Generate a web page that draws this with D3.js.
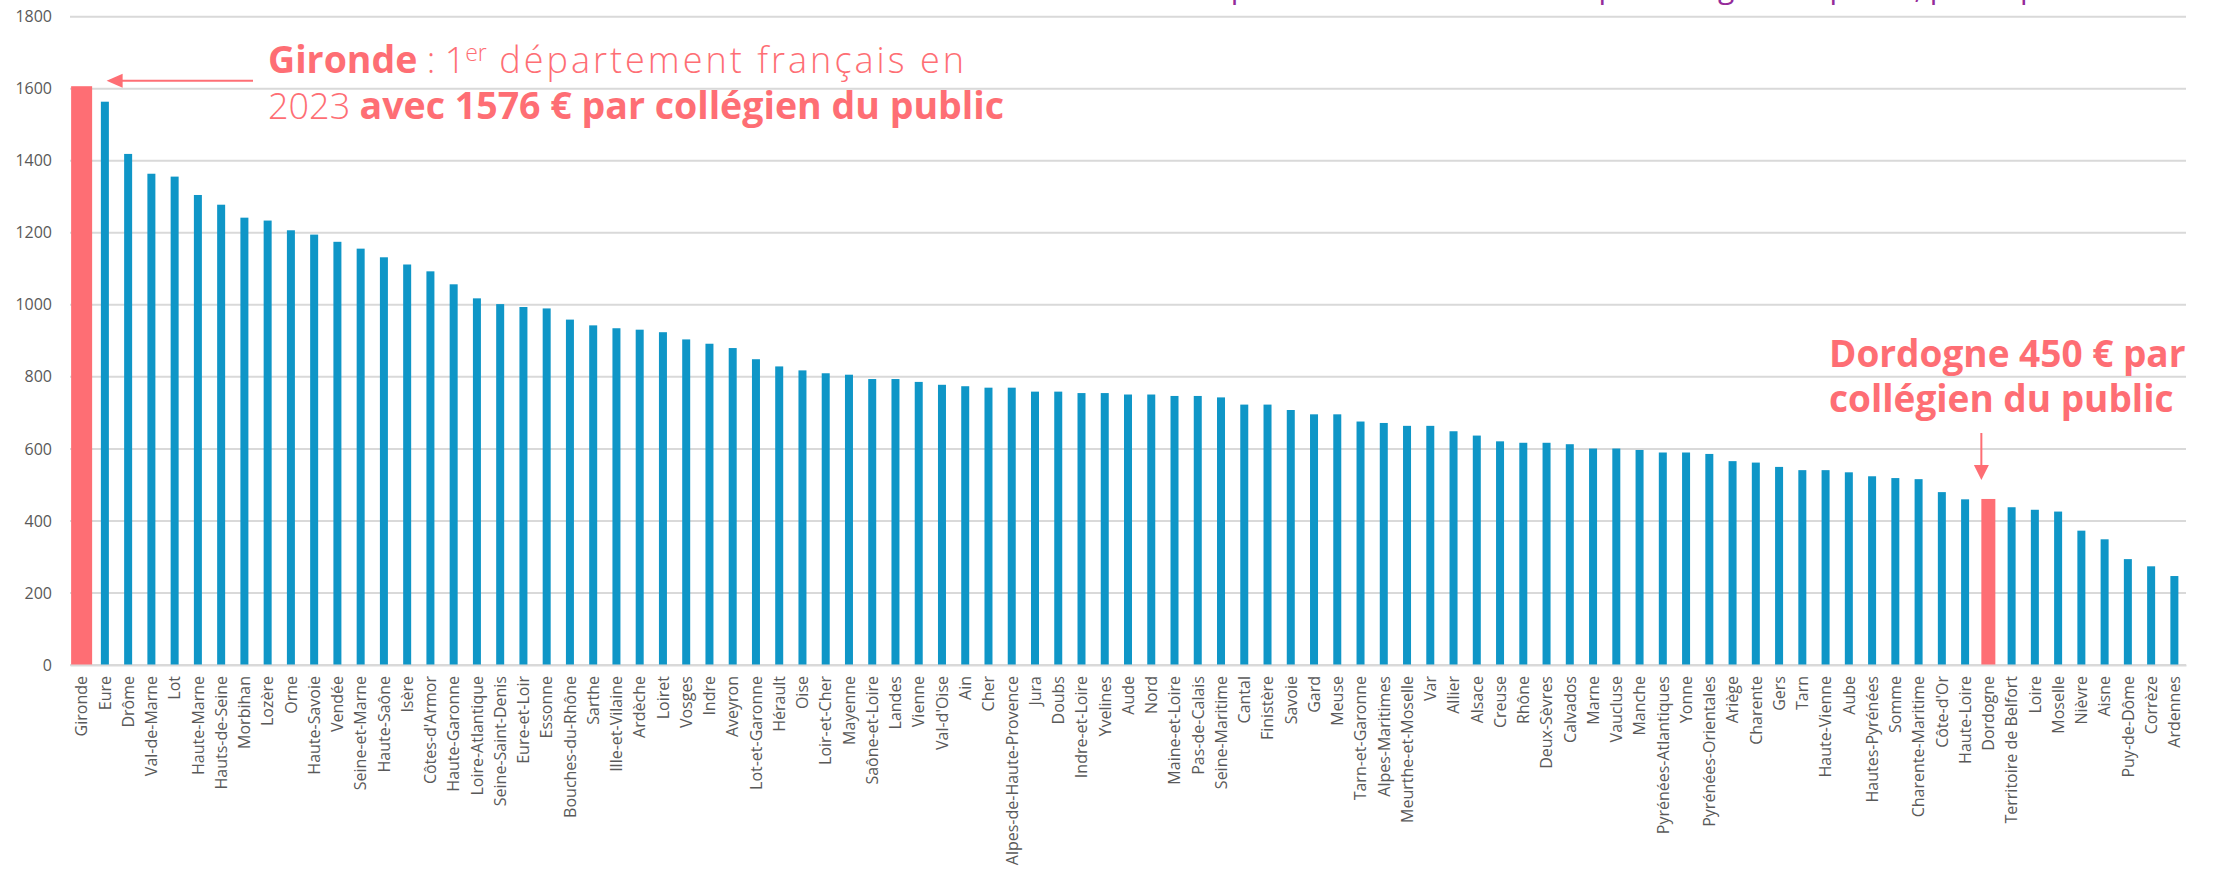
<!DOCTYPE html>
<html>
<head>
<meta charset="utf-8">
<script src="https://cdn.jsdelivr.net/npm/d3@7"></script>
<style>
  html, body { margin: 0; padding: 0; background: #fff; overflow: hidden; }
  svg { display: block; font-family: "Open Sans", "Noto Sans", sans-serif; }
</style>
</head>
<body>
<svg id="chart" width="2214" height="870"></svg>
<script>
const departements = ["Gironde","Eure","Drôme","Val-de-Marne","Lot","Haute-Marne","Hauts-de-Seine","Morbihan","Lozère","Orne","Haute-Savoie","Vendée","Seine-et-Marne","Haute-Saône","Isère","Côtes-d'Armor","Haute-Garonne","Loire-Atlantique","Seine-Saint-Denis","Eure-et-Loir","Essonne","Bouches-du-Rhône","Sarthe","Ille-et-Vilaine","Ardèche","Loiret","Vosges","Indre","Aveyron","Lot-et-Garonne","Hérault","Oise","Loir-et-Cher","Mayenne","Saône-et-Loire","Landes","Vienne","Val-d'Oise","Ain","Cher","Alpes-de-Haute-Provence","Jura","Doubs","Indre-et-Loire","Yvelines","Aude","Nord","Maine-et-Loire","Pas-de-Calais","Seine-Maritime","Cantal","Finistère","Savoie","Gard","Meuse","Tarn-et-Garonne","Alpes-Maritimes","Meurthe-et-Moselle","Var","Allier","Alsace","Creuse","Rhône","Deux-Sèvres","Calvados","Marne","Vaucluse","Manche","Pyrénées-Atlantiques","Yonne","Pyrénées-Orientales","Ariège","Charente","Gers","Tarn","Haute-Vienne","Aube","Hautes-Pyrénées","Somme","Charente-Maritime","Côte-d'Or","Haute-Loire","Dordogne","Territoire de Belfort","Loire","Moselle","Nièvre","Aisne","Puy-de-Dôme","Corrèze","Ardennes"];

const depenseParCollegien = [1607,1564,1419,1364,1356,1305,1278,1242,1234,1207,1195,1175,1156,1132,1112,1093,1057,1018,1002,994,990,959,943,935,931,924,904,892,880,849,829,818,810,806,794,794,786,778,774,770,770,759,759,755,755,751,751,747,747,743,723,723,708,696,696,676,672,664,664,649,637,621,617,617,613,601,601,597,590,590,586,566,562,550,541,541,535,524,519,516,480,460,461,438,431,426,373,349,294,274,247];

const highlighted = ["Gironde", "Dordogne"];
const yTicks = [0,200,400,600,800,1000,1200,1400,1600,1800];

const titleText = "Dépense de fonctionnement par collégien du public, par département";
const annotGironde = {bold1: "Gironde", light1: " : 1", sup: "er", light1b: " département français en", light2: "2023 ", bold2: "avec 1576 € par collégien du public"};
const annotDordogne = ["Dordogne 450 € par", "collégien du public"];

const data = departements.map((d, i) => ({name: d, value: depenseParCollegien[i]}));

const BLUE = "#0f96c7", CORAL = "#fe6e74", GRID = "#d9d9d9", TXT = "#595959";

const svg = d3.select("#chart");
const x = d3.scaleBand().domain(departements).range([70, 2186]).padding(0);
const y = d3.scaleLinear().domain([0, 1800]).range([665, 16.7]);

// Title, cut off at the very top of the picture (only descenders visible)
const title = svg.append("text")
  .attr("x", 0).attr("y", -2.5)
  .attr("font-size", 30)
  .attr("fill", "#952b9a")
  .text(titleText);
{
  const node = title.node();
  const pi = titleText.lastIndexOf("p");
  const px = node.getStartPositionOfChar(pi).x;
  title.attr("x", 2020 - px);
}

// Gridlines
svg.append("g").selectAll("line").data(yTicks).join("line")
  .attr("x1", 70).attr("x2", 2186)
  .attr("y1", d => y(d)).attr("y2", d => y(d))
  .attr("stroke", GRID).attr("stroke-width", 2);

// Y axis
const yAxis = d3.axisLeft(y).tickValues(yTicks).tickSize(0).tickPadding(18).tickFormat(d3.format("d"));
const gy = svg.append("g").attr("transform", "translate(70,0)").call(yAxis);
gy.select(".domain").remove();
gy.selectAll("text").attr("font-size", 16).attr("fill", TXT).attr("font-family", "'Open Sans', sans-serif");

// Bars
const barWidth = d => d.name === "Gironde" ? 21 : (d.name === "Dordogne" ? 14 : 8);
svg.append("g").selectAll("rect").data(data).join("rect")
  .attr("x", d => x(d.name) + x.bandwidth() / 2 - barWidth(d) / 2)
  .attr("width", barWidth)
  .attr("y", d => y(d.value))
  .attr("height", d => y(0) - y(d.value))
  .attr("fill", d => highlighted.includes(d.name) ? CORAL : BLUE);

// X axis
const xAxis = d3.axisBottom(x).tickSize(0).tickPadding(0);
const gxA = svg.append("g").attr("transform", `translate(0,${y(0)})`).call(xAxis);
gxA.select(".domain").attr("stroke", GRID).attr("stroke-width", 2);
gxA.selectAll("text")
  .attr("font-size", 16).attr("fill", TXT).attr("font-family", "'Open Sans', sans-serif")
  .attr("transform", "rotate(-90)")
  .attr("text-anchor", "end")
  .attr("x", -11).attr("y", 0).attr("dy", "0.36em");

// Gironde annotation
const gA = svg.append("g").attr("fill", CORAL).attr("font-size", 36);
const t1 = gA.append("text").attr("x", 268).attr("y", 73);
t1.append("tspan").attr("font-weight", 700).attr("font-size", 37.5).text(annotGironde.bold1);
t1.append("tspan").attr("font-weight", 300).text(annotGironde.light1);
t1.append("tspan").attr("font-weight", 300).attr("font-size", 23).attr("dy", -12).text(annotGironde.sup);
const t1b = t1.append("tspan").attr("font-weight", 300).attr("dy", 12).text(annotGironde.light1b);
const t2 = gA.append("text").attr("x", 268).attr("y", 119);
t2.append("tspan").attr("font-weight", 300).text(annotGironde.light2);
const t2b = t2.append("tspan").attr("font-weight", 700).attr("font-size", 37.5).text(annotGironde.bold2);
{
  let b = t1.node().getBBox();
  let extra = 967 - (b.x + b.width);
  if (extra > 0) t1b.attr("letter-spacing", extra / annotGironde.light1b.length);
  b = t2.node().getBBox();
  extra = 1004 - (b.x + b.width);
  if (extra > 0) t2b.attr("letter-spacing", extra / annotGironde.bold2.length);
}

const gx0 = x("Gironde") + x.bandwidth() / 2;
const gy0 = 80.7;
svg.append("line").attr("x1", 253).attr("x2", gx0 + 40).attr("y1", gy0).attr("y2", gy0)
  .attr("stroke", CORAL).attr("stroke-width", 2);
svg.append("path")
  .attr("d", `M${gx0 + 25},${gy0} L${gx0 + 41},${gy0 - 7} L${gx0 + 41},${gy0 + 7} Z`)
  .attr("fill", CORAL);

// Dordogne annotation
const dA = svg.append("g").attr("fill", CORAL).attr("font-size", 37).attr("font-weight", 700);
dA.selectAll("text").data(annotDordogne).join("text")
  .attr("x", 1829).attr("y", (d, i) => 367 + i * 45)
  .text(d => d);

const dx0 = x("Dordogne") + x.bandwidth() / 2 - 7;
svg.append("line").attr("x1", dx0).attr("x2", dx0).attr("y1", 433).attr("y2", 468)
  .attr("stroke", CORAL).attr("stroke-width", 2);
svg.append("path")
  .attr("d", `M${dx0},480 L${dx0 - 7.5},465 L${dx0 + 7.5},465 Z`)
  .attr("fill", CORAL);
</script>
</body>
</html>
